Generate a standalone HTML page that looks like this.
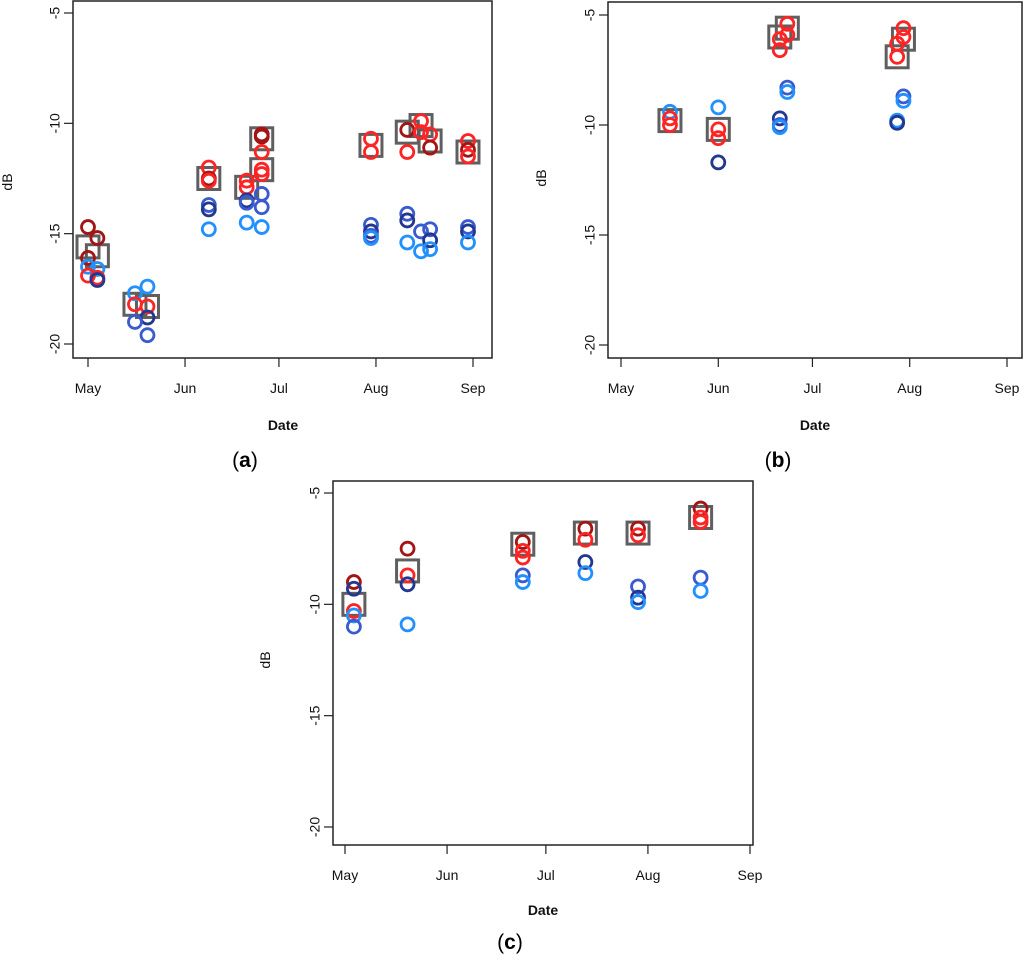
<!DOCTYPE html>
<html><head><meta charset="utf-8"><style>
body{margin:0;background:#fff}
svg text{font-family:"Liberation Sans",Arial,sans-serif}
</style></head><body>
<svg id="s" width="1024" height="955" xmlns="http://www.w3.org/2000/svg"></svg>
<script>
// Shared
const monthLabels = ["May","Jun","Jul","Aug","Sep"];
const monthDays = [0,31,61,92,123];
const yTicks = [-5,-10,-15,-20];
const palette = {dr:"#a31515", r:"#ff2424", nv:"#22388f", b:"#3a5bd0", lb:"#2291ff"};

// Panel (a)
const aDays = [0,3,0,0,3,0,3,3, 15,19,15,19,19,15,19, 38.6,38.6,38.6,38.6,38.6,38.6, 50.7,50.7,50.7,50.7,50.7, 55.5,55.5,55.5,55.5,55.5,55.5,55.5,55.5, 90.4,90.4,90.4,90.4,90.4,90.4, 102,102,102,102,102, 106.4,106.4,106.4,106.4, 109.3,109.3,109.3,109.3,109.3, 121.4,121.4,121.4,121.4,121.4,121.4];
const aVals = [-14.7,-15.2,-16.1,-16.5,-16.6,-16.9,-17.0,-17.1, -17.7,-17.4,-18.2,-18.3,-18.8,-19.0,-19.6, -12.0,-12.5,-12.6,-13.7,-13.9,-14.8, -12.6,-12.9,-13.5,-13.6,-14.5, -10.5,-10.6,-11.3,-12.1,-12.3,-13.2,-13.8,-14.7, -10.7,-11.3,-14.6,-14.9,-15.1,-15.2, -10.3,-11.3,-14.1,-14.4,-15.4, -9.9,-10.4,-14.9,-15.8, -10.5,-11.1,-14.8,-15.3,-15.7, -10.8,-11.2,-11.5,-14.7,-14.9,-15.4];
const aCols = ["dr","dr","dr","lb","lb","r","r","nv", "lb","lb","r","r","nv","b","b", "r","dr","r","b","nv","lb", "r","r","nv","b","lb", "dr","dr","r","r","r","b","b","lb", "r","r","b","nv","b","lb", "dr","r","b","nv","lb", "r","r","b","lb", "r","dr","b","nv","lb", "r","dr","r","b","nv","lb"];
const aSqDays = [0,3,15,19,38.6,50.7,55.5,55.5,90.4,102,106.4,109.3,121.4];
const aSqVals = [-15.6,-16.0,-18.2,-18.3,-12.5,-12.9,-10.7,-12.1,-11.0,-10.4,-10.1,-10.8,-11.3];

// Panel (b)
const bDays = [15.6,15.6,15.6, 31,31,31,31, 53,53,50.6,50.6,53,53,50.6,50.6,50.6, 90,90,88,88,90,90,88,88];
const bVals = [-9.4,-9.7,-10.0, -9.2,-10.2,-10.6,-11.7, -5.4,-5.9,-6.1,-6.6,-8.3,-8.5,-9.7,-10.0,-10.1, -5.6,-6.0,-6.3,-6.9,-8.7,-8.9,-9.8,-9.9];
const bCols = ["lb","r","r", "lb","r","r","nv", "r","r","r","r","b","lb","nv","b","lb", "r","r","r","r","b","lb","lb","nv"];
const bSqDays = [15.6,31,53,50.6,90,88];
const bSqVals = [-9.8,-10.2,-5.6,-6.0,-6.1,-6.9];

// Panel (c)
const cDays = [2.7,2.7,2.7,2.7,2.7, 19,19,19,19, 54,54,54,54,54, 73,73,73,73, 89,89,89,89,89, 108,108,108,108,108];
const cVals = [-9.0,-9.3,-10.3,-10.5,-11.0, -7.5,-8.7,-9.1,-10.9, -7.2,-7.6,-7.9,-8.7,-9.0, -6.6,-7.1,-8.1,-8.6, -6.6,-6.9,-9.2,-9.7,-9.9, -5.7,-6.1,-6.3,-8.8,-9.4];
const cCols = ["dr","nv","r","lb","b", "dr","r","nv","lb", "dr","r","r","b","lb", "dr","r","nv","lb", "dr","r","b","nv","lb", "dr","r","r","b","lb"];
const cSqDays = [2.7,19,54,73,89,108];
const cSqVals = [-10.0,-8.5,-7.3,-6.8,-6.8,-6.1];

const NS="http://www.w3.org/2000/svg";
const svg=document.getElementById('s');
function mk(tag,attrs,parent){const e=document.createElementNS(NS,tag);for(const k in attrs)e.setAttribute(k,attrs[k]);(parent||svg).appendChild(e);return e;}

function panel(P){
  const g=mk('g',{});
  
  
  const xs=d=>P.x0+(d-0)*(P.x1-P.x0)/123;
  const ys=v=>P.y5+(-5-v)*(P.y20-P.y5)/(-5+20);
  const box=mk('rect',{x:P.L,y:P.T,width:P.R-P.L,height:P.B-P.T,fill:'none',stroke:'#222','stroke-width':1.5},g);
  
  
  yTicks.forEach(v=>{
    const y=ys(v);
    mk('line',{x1:P.L-9,x2:P.L,y1:y,y2:y,stroke:'#222','stroke-width':1.2},g);
    const t=mk('text',{x:P.L-17,y:y,'font-size':14,'text-anchor':'middle',transform:`rotate(-90 ${P.L-17} ${y})`,'dominant-baseline':'middle',fill:'#111'},g);
    t.textContent=v;
    
    
  });
  monthDays.forEach((d,i)=>{
    const x=xs(d);
    mk('line',{x1:x,x2:x,y1:P.B,y2:P.B+9,stroke:'#222','stroke-width':1.2},g);
    const t=mk('text',{x:x,y:P.B+35,'font-size':14,'text-anchor':'middle',fill:'#111'},g);
    t.textContent=monthLabels[i];
    
    
  });
  const yl=mk('text',{x:P.ylx,y:P.yly,'font-size':14,'text-anchor':'middle',transform:`rotate(-90 ${P.ylx} ${P.yly})`,fill:'#111'},g);
  yl.textContent='dB';
  
  
  const xl=mk('text',{x:P.xlx,y:P.xly,'font-size':14,'font-weight':'bold','text-anchor':'middle',fill:'#111'},g);
  xl.textContent='Date';
  
  
  const cap=mk('text',{x:P.capx,y:P.capy,'font-size':21,'text-anchor':'middle',fill:'#000','font-family':'Liberation Serif, serif'},g);
  cap.innerHTML='(<tspan font-weight="bold">'+P.id+'</tspan>)';
  
  
  P.sd.forEach((d,i)=>{
    const s=mk('rect',{x:xs(d)-11,y:ys(P.sv[i])-11,width:22,height:22,fill:'none',stroke:'#5f5f5f','stroke-width':3},g);
    
    
  });
  P.d.forEach((d,i)=>{
    const c=mk('circle',{cx:xs(d),cy:ys(P.v[i]),r:6.5,fill:'none',stroke:palette[P.c[i]],'stroke-width':2.8},g);
    
    
  });
}
panel({id:'a',L:73,R:492,T:1,B:358,x0:88,x1:473,y5:13,y20:344,ylx:12,yly:182,xlx:283,xly:430,capx:245,capy:467,d:aDays,v:aVals,c:aCols,sd:aSqDays,sv:aSqVals});
panel({id:'b',L:608,R:1022,T:2,B:358,x0:621,x1:1007,y5:15,y20:345,ylx:546,yly:178,xlx:815,xly:430,capx:778,capy:467,d:bDays,v:bVals,c:bCols,sd:bSqDays,sv:bSqVals});
panel({id:'c',L:333,R:753,T:481,B:845,x0:345,x1:750,y5:493,y20:827,ylx:270,yly:660,xlx:543,xly:915,capx:510,capy:949,d:cDays,v:cVals,c:cCols,sd:cSqDays,sv:cSqVals});
</script>
</body></html>
